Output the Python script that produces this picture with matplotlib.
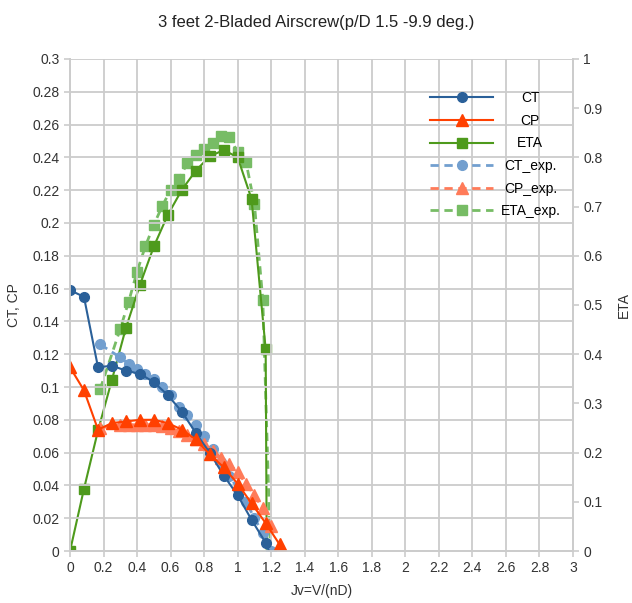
"""Coefficients de poussee / puissance et rendement d'une helice bipale de 3 pieds
(p/D 1.5, -9.9 deg.) : calcul vs essais."""
import matplotlib

matplotlib.use("Agg")
import matplotlib.pyplot as plt

plt.rcParams["font.family"] = ["Liberation Sans", "DejaVu Sans"]

# calcul
J_calc = [0, 0.083, 0.167, 0.25, 0.333, 0.417, 0.5, 0.583, 0.667, 0.75, 0.833,
          0.917, 1.0, 1.083, 1.167, 1.25]
CT_calc = [0.159, 0.155, 0.112, 0.113, 0.110, 0.108, 0.103, 0.095, 0.085, 0.072,
           0.060, 0.046, 0.034, 0.019, 0.005, -0.016]
CP_calc = [0.112, 0.098, 0.074, 0.078, 0.079, 0.080, 0.080, 0.078, 0.074, 0.068,
           0.059, 0.051, 0.041, 0.029, 0.017, 0.004]
ETA_calc = [0.0, 0.126, 0.245, 0.348, 0.453, 0.541, 0.619, 0.683, 0.734, 0.773,
            0.802, 0.815, 0.800, 0.715, 0.410, -5.0]

# essais
J_exp = [0.18, 0.30, 0.35, 0.40, 0.45, 0.50, 0.55, 0.60, 0.65, 0.70, 0.75, 0.80,
         0.85, 0.90, 0.95, 1.00, 1.05, 1.10, 1.15, 1.20]
CT_exp = [0.126, 0.118, 0.114, 0.111, 0.108, 0.105, 0.100, 0.095, 0.088, 0.083,
          0.077, 0.070, 0.062, 0.054, 0.046, 0.038, 0.030, 0.020, 0.011, 0.0]
CP_exp = [0.075, 0.077, 0.077, 0.077, 0.077, 0.077, 0.076, 0.075, 0.073, 0.071,
          0.068, 0.065, 0.061, 0.057, 0.053, 0.048, 0.041, 0.034, 0.026, 0.015]
ETA_exp = [0.329, 0.452, 0.507, 0.568, 0.620, 0.663, 0.701, 0.734, 0.757, 0.788,
           0.805, 0.817, 0.830, 0.843, 0.842, 0.810, 0.790, 0.705, 0.510, -0.05]

X_TICKS = [0, 0.2, 0.4, 0.6, 0.8, 1, 1.2, 1.4, 1.6, 1.8, 2, 2.2, 2.4, 2.6, 2.8, 3]
Y_TICKS = [0, 0.02, 0.04, 0.06, 0.08, 0.1, 0.12, 0.14, 0.16, 0.18, 0.2, 0.22,
           0.24, 0.26, 0.28, 0.3]
ETA_TICKS = [0, 0.1, 0.2, 0.3, 0.4, 0.5, 0.6, 0.7, 0.8, 0.9, 1]

BLUE, RED, GREEN = "#2a6099", "#ff4000", "#4e9a1c"
BLUE_L, RED_L, GREEN_L = "#729fcf", "#ff7b59", "#77bc65"
GRID = "#cccccc"
TXT = "#333333"


def fmt(v):
    return f"{v:g}"


fig, ax = plt.subplots(figsize=(6.32, 6.03), dpi=100)
fig.subplots_adjust(left=0.1108, right=0.9066, bottom=0.0862, top=0.9022)
ax2 = ax.twinx()

# courbes CT / CP au-dessus de l'axe secondaire
ax.set_zorder(ax2.get_zorder() + 1)
ax.patch.set_visible(False)

dash = (0, (3, 2))
l_ct_e, = ax.plot(J_exp, CT_exp, color=BLUE_L, lw=2, ls=dash, marker="o", ms=7,
                  label="CT_exp.")
l_cp_e, = ax.plot(J_exp, CP_exp, color=RED_L, lw=2, ls=dash, marker="^", ms=8,
                  label="CP_exp.")
l_ct, = ax.plot(J_calc, CT_calc, color=BLUE, lw=1.5, marker="o", ms=7, label="CT")
l_cp, = ax.plot(J_calc, CP_calc, color=RED, lw=1.5, marker="^", ms=8, label="CP")
l_eta_e, = ax2.plot(J_exp, ETA_exp, color=GREEN_L, lw=2, ls=dash, marker="s", ms=7,
                    label="ETA_exp.")
l_eta, = ax2.plot(J_calc, ETA_calc, color=GREEN, lw=1.5, marker="s", ms=7, label="ETA")

ax.set_xlim(0, 3)
ax.set_ylim(0, 0.3)
ax2.set_ylim(0, 1)
ax.set_xticks(X_TICKS, [fmt(v) for v in X_TICKS])
ax.set_yticks(Y_TICKS, [fmt(v) for v in Y_TICKS])
ax2.set_yticks(ETA_TICKS, [fmt(v) for v in ETA_TICKS])

ax.grid(True, color=GRID, lw=1.3)
ax.set_axisbelow(True)
for a in (ax, ax2):
    a.tick_params(colors=GRID, labelcolor=TXT, labelsize=10, length=4, width=1.2)
    for s in a.spines.values():
        s.set_color(GRID)
        s.set_linewidth(1.3)
    a.spines["top"].set_visible(False)

ax.set_xlabel("Jv=V/(nD)", fontsize=10, color=TXT, labelpad=6)
ax.set_ylabel("CT, CP", fontsize=10, color=TXT, labelpad=8)
ax2.set_ylabel("ETA", fontsize=10, color=TXT, labelpad=10)
fig.suptitle("3 feet 2-Bladed Airscrew(p/D 1.5 -9.9 deg.)", fontsize=12, color="#222222",
             y=0.975)

handles = [l_ct, l_cp, l_eta, l_ct_e, l_cp_e, l_eta_e]
leg = ax.legend(handles, [h.get_label() for h in handles], loc="upper left",
                bbox_to_anchor=(0.69, 0.96), frameon=False, fontsize=10,
                handlelength=4.6, handletextpad=0.5, labelspacing=0.62)

# textes de la legende centres dans leur colonne
fig.canvas.draw()
renderer = fig.canvas.get_renderer()
texts = leg.get_texts()
widths = [t.get_window_extent(renderer).width for t in texts]
wmax = max(widths)
for t, w in zip(texts, widths):
    t.set_x((wmax - w) / 2)

fig.savefig("out.png", dpi=100)
